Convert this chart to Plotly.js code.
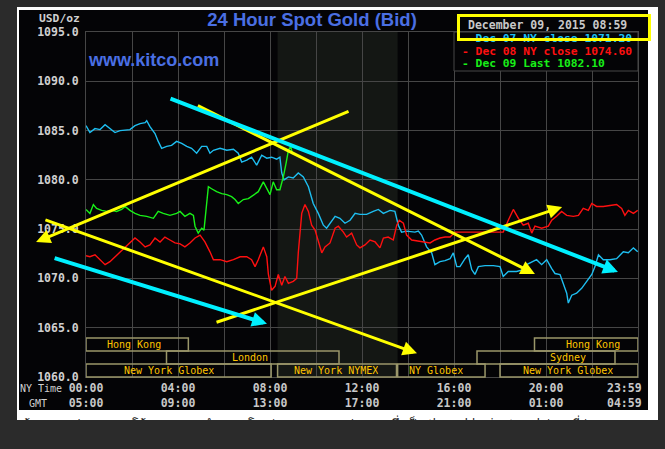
<!DOCTYPE html>
<html><head><meta charset="utf-8">
<script src="https://cdn.plot.ly/plotly-3.0.1.min.js"></script>
<style>html,body{margin:0;padding:0;background:#2b2b2b;overflow:hidden}#chart{width:665px;height:449px}</style>
</head><body><div id="chart"></div>
<script>
// ---------- data (hours after 00:00 NY time, price USD/oz) ----------
const seriesNames = ['Dec 07 NY close 1071.20', 'Dec 08 NY close 1074.60', 'Dec 09 Last 1082.10'];

const dec07Hours = [0,0.17,0.39,0.61,0.83,1.04,1.26,1.48,1.91,2.13,
2.35,2.57,2.64,2.78,3.0,3.14,3.29,3.51,3.72,3.94,
4.16,4.38,4.59,4.81,5.03,5.25,5.39,5.54,5.83,6.12,
6.41,6.62,6.77,6.99,7.20,7.42,7.64,7.86,8.07,8.29,
8.43,8.51,8.61,8.80,9.01,9.23,9.45,9.67,9.88,10.10,
10.32,10.46,10.61,10.83,11.04,11.26,11.48,11.70,11.91,12.20,
12.49,12.71,12.93,13.22,13.43,13.58,13.72,13.94,14.30,14.45,
14.59,14.81,15.03,15.17,15.39,15.61,15.83,15.97,16.12,16.26,
16.48,16.62,16.77,16.91,17.06,17.35,17.71,18.00,18.14,18.36,
18.72,19.01,19.16,19.38,19.59,19.81,20.03,20.25,20.39,20.61,
20.75,20.90,20.97,21.12,21.33,21.55,21.77,21.99,22.13,22.28,
22.49,22.78,23.07,23.36,23.58,23.80,23.99];
const dec07Price = [1085.5,1084.8,1085.2,1085.1,1085.6,1085.2,1084.8,1085.0,1085.1,1085.5,
1085.7,1085.8,1086.0,1085.4,1084.7,1083.9,1083.2,1083.4,1083.5,1083.9,
1083.7,1083.4,1083.2,1082.7,1083.4,1083.4,1082.7,1083.0,1083.2,1083.0,
1083.1,1082.7,1081.8,1082.0,1082.3,1081.5,1082.5,1082.2,1082.3,1082.1,
1082.3,1080.7,1080.0,1080.3,1080.2,1080.7,1080.3,1079.3,1077.6,1076.6,
1075.4,1075.1,1075.6,1076.3,1076.1,1075.6,1075.9,1076.6,1076.5,1076.5,
1076.8,1077.0,1076.6,1076.9,1076.8,1075.4,1074.7,1074.8,1074.7,1074.8,
1074.4,1073.2,1072.6,1071.4,1071.7,1071.8,1072.0,1072.6,1071.2,1071.2,
1072.0,1072.4,1070.9,1070.4,1071.2,1071.3,1071.3,1071.2,1070.2,1070.7,
1070.7,1070.9,1071.4,1071.7,1071.9,1071.4,1071.9,1071.0,1070.5,1070.4,
1069.5,1068.5,1067.5,1068.3,1068.5,1069.0,1069.7,1070.4,1071.2,1072.4,
1071.9,1071.9,1072.0,1072.7,1072.6,1073.1,1072.7];

const dec08Hours = [0,0.17,0.39,0.61,0.83,1.04,1.26,1.48,1.70,1.91,
2.13,2.35,2.57,2.78,3.0,3.22,3.43,3.65,3.87,4.09,
4.30,4.52,4.74,4.96,5.17,5.39,5.54,5.83,6.12,6.41,
6.70,6.99,7.20,7.35,7.49,7.71,7.86,7.93,8.07,8.22,
8.36,8.51,8.65,8.80,9.01,9.16,9.23,9.38,9.52,9.67,
9.81,9.96,10.10,10.25,10.39,10.61,10.83,10.97,11.19,11.33,
11.55,11.77,11.91,12.13,12.35,12.57,12.78,12.93,13.14,13.36,
13.51,13.62,13.80,13.94,14.16,14.38,14.67,14.96,15.17,15.39,
15.61,15.83,16.04,16.26,16.70,17.13,17.71,18.14,18.36,18.58,
18.80,19.01,19.23,19.38,19.52,19.81,20.10,20.25,20.46,20.68,
20.90,21.19,21.41,21.62,21.84,21.99,22.20,22.49,22.78,23.07,
23.29,23.43,23.58,23.80,23.99];
const dec08Price = [1072.3,1072.2,1072.4,1071.9,1071.4,1071.7,1072.2,1072.7,1073.2,1073.6,
1074.1,1073.7,1073.2,1073.4,1074.1,1073.7,1074.2,1073.9,1073.6,1073.5,
1073.2,1073.6,1074.1,1074.4,1073.7,1072.7,1071.9,1071.9,1071.7,1071.9,
1072.2,1072.2,1071.9,1071.2,1071.9,1073.2,1072.2,1070.4,1068.8,1069.2,
1070.4,1069.3,1070.2,1069.5,1069.7,1070.0,1072.6,1076.6,1077.5,1076.8,
1075.4,1074.9,1073.7,1072.6,1073.2,1073.6,1075.1,1075.3,1074.7,1074.2,
1074.6,1073.4,1073.1,1073.4,1073.9,1073.7,1073.1,1074.1,1074.2,1073.9,
1075.4,1075.9,1075.6,1074.4,1073.9,1073.8,1073.7,1073.6,1073.9,1074.1,
1074.2,1074.2,1074.7,1074.7,1074.7,1074.7,1074.7,1074.7,1075.9,1077.0,
1076.1,1075.4,1075.6,1074.6,1075.3,1075.1,1075.3,1075.9,1076.3,1076.8,
1076.4,1076.3,1076.4,1077.1,1076.9,1077.6,1077.3,1077.3,1077.4,1077.5,
1077.1,1076.4,1076.9,1076.6,1076.9];

const dec09Hours = [0,0.17,0.32,0.46,0.68,0.90,1.12,1.33,1.55,1.70,
1.91,2.13,2.35,2.64,2.93,3.14,3.36,3.65,3.94,4.09,
4.30,4.52,4.67,4.74,4.88,5.03,5.13,5.22,5.32,5.46,
5.68,5.90,6.12,6.33,6.48,6.62,6.84,7.06,7.28,7.49,
7.71,7.86,8.0,8.14,8.29,8.43,8.58,8.70,8.80,8.90,
8.94,8.98];
const dec09Price = [1077.0,1076.6,1077.5,1077.1,1076.9,1076.8,1076.9,1076.8,1077.0,1077.3,
1076.9,1076.6,1076.4,1076.3,1076.1,1076.8,1076.6,1076.4,1076.6,1076.8,
1076.3,1076.6,1076.4,1075.3,1074.6,1075.1,1074.9,1076.9,1079.3,1079.1,
1078.8,1078.6,1078.5,1078.3,1078.0,1077.6,1078.0,1078.1,1078.5,1078.8,
1079.8,1079.1,1078.5,1079.8,1079.0,1079.0,1080.3,1081.7,1083.0,1083.4,
1082.9,1082.6];

// hand-drawn trend arrows (tail -> head), in hours / price
const trendFromX = [11.48, -1.83, 4.80, 5.61, -1.43, 3.61];
const trendFromY = [1087.0, 1076.0, 1087.6, 1065.5, 1072.1, 1088.3];
const trendToX   = [-2.17, 14.39, 19.52, 20.70, 7.87, 23.13];
const trendToY   = [1073.7, 1062.4, 1070.45, 1077.25, 1065.4, 1070.65];
const trendKind  = ['yellow','yellow','yellow','yellow','cyan','cyan'];

// trading sessions
const sessionNames = ['Hong Kong','London','New York Globex','New York NYMEX','NY Globex','New York Globex','Sydney','Hong Kong'];
const sessionStart = [0, 3.5, 0, 8.33, 13.55, 18.0, 17.0, 19.5];
const sessionEnd   = [4.45, 11.0, 8.05, 13.5, 17.35, 24, 23.0, 24];
const sessionRow   = [1, 2, 3, 3, 3, 3, 2, 1];
const sessionLabelAt = [2.09, 7.13, 3.61, 10.87, 15.22, 20.96, 20.96, 22.04];
const nymexShade = [8.33, 13.55];

// axis labels
const gridHours = [0,2,4,6,8,10,12,14,16,18,20,22];
const labelHours = [0,4,8,12,16,20];
const nyTimeLabels = ['00:00','04:00','08:00','12:00','16:00','20:00'];
const gmtLabels = ['05:00','09:00','13:00','17:00','21:00','01:00'];
const endLabelHour = 24;
const endNyLabel = '23:59';
const endGmtLabel = '04:59';
const yRange = [1060, 1095];

// ---------- styling / layout ----------
const L = 86, R = 638, T = 32, B = 377;
const W = R - L, H = B - T;
const px = v => (v - L) / W;
const py = v => (B - v) / H;
const mono = 'DejaVu Sans Mono';
const gridC = '#464646';
const blue = '#4a6fe3';
const seriesColors = ['#1ebef0', '#ff1010', '#18f018'];
const kindStyle = {yellow: {c: '#ffff00', w: 3, s: 0.95}, cyan: {c: '#00f0ff', w: 4, s: 0.75}};

const traces = [
  {x: dec07Hours, y: dec07Price},
  {x: dec08Hours, y: dec08Price},
  {x: dec09Hours, y: dec09Price}
].map((t, i) => ({
  x: t.x, y: t.y, type: 'scatter', mode: 'lines', name: seriesNames[i],
  line: {color: seriesColors[i], width: 1.4}, hoverinfo: 'skip', showlegend: false
}));

const ticktext = gridHours.map(h => {
  const k = labelHours.indexOf(h);
  return k >= 0 ? nyTimeLabels[k] + '<br>' + gmtLabels[k] : '';
});

const rowTop = r => 338 + 13 * (r - 1);

const shapes = [
  {type: 'rect', xref: 'paper', yref: 'paper', x0: px(17), x1: px(658), y0: py(420), y1: py(7),
   fillcolor: '#ffffff', line: {width: 0}, layer: 'below'},
  {type: 'rect', xref: 'paper', yref: 'paper', x0: px(19), x1: px(648), y0: py(410), y1: py(10),
   fillcolor: '#040406', line: {width: 0}, layer: 'below'},
  {type: 'rect', xref: 'x', yref: 'paper', x0: nymexShade[0], x1: nymexShade[1], y0: 0, y1: 1,
   fillcolor: '#141714', line: {width: 0}, layer: 'below'},
  {type: 'rect', xref: 'paper', yref: 'paper', x0: px(454), x1: 1, y0: py(71), y1: 1,
   fillcolor: '#040406', line: {color: gridC, width: 1}, layer: 'above'}
];
sessionNames.forEach((n, i) => {
  const top = rowTop(sessionRow[i]);
  shapes.push({type: 'rect', xref: 'x', yref: 'paper', x0: sessionStart[i], x1: sessionEnd[i],
    y0: py(top + 13), y1: py(top), line: {color: '#9a976a', width: 1.5}, fillcolor: 'rgba(0,0,0,0)', layer: 'above'});
});

const annotations = [];
// site name
annotations.push({xref: 'paper', yref: 'paper', x: px(86), y: py(60), xanchor: 'left', yanchor: 'middle',
  text: 'www.kitco.com', showarrow: false,
  font: {family: 'Liberation Sans', size: 18, color: blue, weight: 'bold'}});
// units
annotations.push({xref: 'paper', yref: 'paper', x: px(82), y: py(18), xanchor: 'right', yanchor: 'middle',
  text: 'USD/oz', showarrow: false, font: {family: mono, size: 11.3, color: '#d0d0d0', weight: 'bold'}});
// date
annotations.push({xref: 'paper', yref: 'paper', x: px(466), y: py(25), xanchor: 'left', yanchor: 'middle',
  text: 'December 09, 2015 08:59', showarrow: false, font: {family: mono, size: 11.5, color: '#c8c8c8', weight: 'bold'}});
// legend rows
[39, 51.5, 64].forEach((yy, i) => {
  annotations.push({xref: 'paper', yref: 'paper', x: px(461), y: py(yy), xanchor: 'left', yanchor: 'middle',
    text: '- ' + seriesNames[i], showarrow: false, height: 11, borderpad: 0,
    font: {family: mono, size: 11.3, color: seriesColors[i], weight: 'bold'}});
});
// session labels
sessionNames.forEach((n, i) => {
  annotations.push({xref: 'x', yref: 'paper', x: sessionLabelAt[i], y: py(rowTop(sessionRow[i]) + 6.5),
    xanchor: 'center', yanchor: 'middle', text: n, showarrow: false, height: 11, borderpad: 0,
    font: {family: mono, size: 10, color: '#ffc400'}});
});
// axis side labels
annotations.push({xref: 'paper', yref: 'paper', x: px(64), y: py(388), xanchor: 'right', yanchor: 'middle',
  text: 'NY Time', showarrow: false, font: {family: mono, size: 10, color: '#d0d0d0'}});
annotations.push({xref: 'paper', yref: 'paper', x: px(49), y: py(403), xanchor: 'right', yanchor: 'middle',
  text: 'GMT', showarrow: false, font: {family: mono, size: 10, color: '#d0d0d0'}});
annotations.push({xref: 'x', yref: 'paper', x: endLabelHour, y: py(395.5), xanchor: 'right', yanchor: 'middle',
  xshift: 6, text: endNyLabel + '<br>' + endGmtLabel, showarrow: false,
  font: {family: mono, size: 11.5, color: '#c8c8c8', weight: 'bold'}});
// trend arrows
trendKind.forEach((k, i) => {
  const st = kindStyle[k];
  annotations.push({xref: 'x', yref: 'y', axref: 'x', ayref: 'y',
    x: trendToX[i], y: trendToY[i], ax: trendFromX[i], ay: trendFromY[i],
    text: '', showarrow: true, arrowhead: 2, arrowsize: st.s, arrowwidth: st.w, arrowcolor: st.c,
    standoff: 0, startstandoff: 0});
});
// yellow highlight box around date
annotations.push({xref: 'paper', yref: 'paper', x: px(554), y: py(27.5), xanchor: 'center', yanchor: 'middle',
  text: ' ', width: 188, height: 21, borderwidth: 3, borderpad: 0, bordercolor: '#ffff00',
  bgcolor: 'rgba(0,0,0,0)', showarrow: false, font: {size: 4}});
// cut-off caption strip
annotations.push({xref: 'paper', yref: 'paper', x: px(20), y: py(413), xanchor: 'left', yanchor: 'top',
  text: 'ข้อมูลกราฟแสดงแนวโน้มราคาทองคำตลาดโลกล่าสุด ตามภาพประกอบ ซึ่งเป็น the gold price trend ล่าสุดที่ผ่านมา',
  showarrow: false, font: {family: 'Noto Sans', size: 12, color: '#222222'}});
annotations.push({xref: 'paper', yref: 'paper', x: px(332.5), y: py(435), xanchor: 'center', yanchor: 'middle',
  text: ' ', width: 665, height: 30, borderwidth: 0, borderpad: 0, bgcolor: '#2b2b2b', showarrow: false, font: {size: 4}});

const layout = {
  width: 665, height: 449,
  margin: {l: L, r: 665 - R, t: T, b: 449 - B, pad: 0},
  paper_bgcolor: '#2b2b2b', plot_bgcolor: '#040406',
  title: {text: '24 Hour Spot Gold (Bid)', x: 312 / 665, xanchor: 'center', y: 1 - 20 / 449, yanchor: 'middle',
    font: {family: 'Liberation Sans', size: 18.5, color: blue, weight: 'bold'}},
  xaxis: {range: [0, 24], tickmode: 'array', tickvals: gridHours, ticktext: ticktext,
    showgrid: true, gridcolor: gridC, gridwidth: 1, zeroline: false, ticks: '',
    showline: true, mirror: true, linecolor: gridC, linewidth: 1, ticklabelstandoff: 0,
    tickfont: {family: mono, size: 11.5, color: '#c8c8c8', weight: 'bold'}, fixedrange: true},
  yaxis: {range: yRange, dtick: 5, tick0: 1060, tickformat: '.1f',
    showgrid: true, gridcolor: gridC, gridwidth: 1, zeroline: false, ticks: '',
    showline: true, mirror: true, linecolor: gridC, linewidth: 1, ticklabelstandoff: 4,
    tickfont: {family: mono, size: 11.5, color: '#d0d0d0', weight: 'bold'}, fixedrange: true},
  shapes: shapes,
  annotations: annotations,
  showlegend: false
};

Plotly.newPlot('chart', traces, layout, {displayModeBar: false, staticPlot: true});
</script></body></html>
